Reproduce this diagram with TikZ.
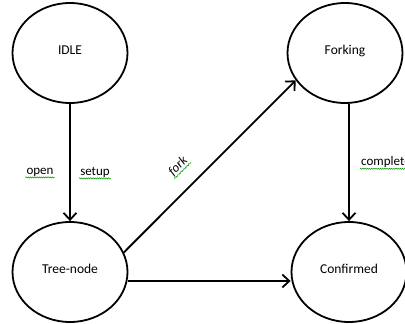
\documentclass[tikz,border=0pt]{standalone}
\usepackage{fontspec}
\setmainfont{Carlito}
\usetikzlibrary{shapes.geometric,arrows.meta,decorations.pathmorphing}
\begin{document}
\begin{tikzpicture}[x=1pt,y=-1pt,
 state/.style={draw,ellipse,line width=1.8pt,minimum width=115pt,minimum height=100pt,inner sep=0pt,font=\fontsize{13.5}{15}\selectfont},
 conn/.style={line width=1.8pt,-{Straight Barb[length=7pt,width=13pt,line width=1.8pt]}},
 lbl/.style={font=\fontsize{13}{15}\selectfont,inner sep=1pt},
 squig/.style={green!60!black,line width=0.5pt,decorate,decoration={snake,amplitude=0.6pt,segment length=2.2pt}}]
\clip (0,0) rectangle (405,324);
\node[state] (idle) at (70,53) {\raisebox{6pt}{IDLE}};
\node[state] (forking) at (345,53) {\raisebox{6pt}{Forking}};
\node[state] (tree) at (70,272) {\raisebox{6pt}{Tree-node}};
\node[state] (confirmed) at (349,272) {\raisebox{6pt}{Confirmed}};
\draw[conn] (idle) -- (tree);
\draw[conn] (forking.south -| confirmed.north) -- (confirmed.north);
\draw[conn] ([yshift=-9pt]tree.east) -- ([yshift=-9pt]confirmed.west);
\draw[conn] (tree.20) -- (forking.209);
\node[lbl] (open) at (40,172) {open};
\node[lbl] (setup) at (95,172) {setup};
\node[lbl,rotate=45] (fork) at (178,166) {\itshape fork};
\node[lbl,anchor=west] (complete) at (360,162) {complete};
\foreach \n in {open,setup,fork,complete}
  \draw[squig] (\n.south west) -- (\n.south east);
\end{tikzpicture}
\end{document}
